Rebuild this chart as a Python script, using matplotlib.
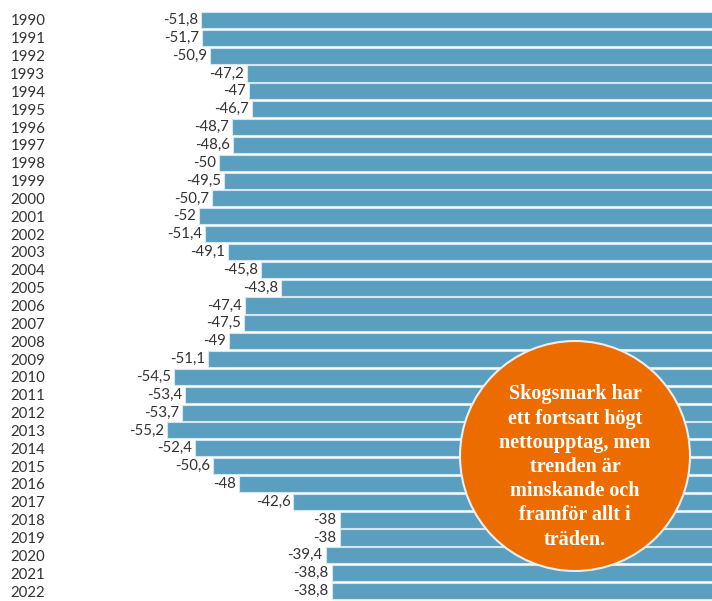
import matplotlib
matplotlib.use("Agg")
import matplotlib.pyplot as plt
from matplotlib.patches import Ellipse

years = list(range(1990, 2023))
values = [-51.8, -51.7, -50.9, -47.2, -47, -46.7, -48.7, -48.6, -50, -49.5,
          -50.7, -52, -51.4, -49.1, -45.8, -43.8, -47.4, -47.5, -49, -51.1,
          -54.5, -53.4, -53.7, -55.2, -52.4, -50.6, -48, -42.6, -38, -38,
          -39.4, -38.8, -38.8]
note = "Skogsmark har\nett fortsatt högt\nnettoupptag, men\ntrenden är\nminskande och\nframför allt i\nträden."

W, H = 712, 601
fig = plt.figure(figsize=(W / 100, H / 100), dpi=100)
left_px = 55
ax = fig.add_axes([left_px / W, 1 - 600 / H, 1 - left_px / W, (600 - 11) / H])

ppu = 10.06  # pixels per unit
zero_px = 722
ax.set_xlim(-(zero_px - left_px) / ppu, -(zero_px - W) / ppu)

pos = list(range(len(years)))
ax.barh(pos, values, height=0.9, color="#5b9fc0", edgecolor="#d6e6ee", linewidth=0.8)
ax.set_ylim(len(years) - 0.5, -0.5)

def fmt(v):
    s = ("%g" % v).replace(".", ",")
    return s

for p, v in zip(pos, values):
    ax.text(v - 0.3, p, fmt(v), ha="right", va="center", fontsize=10.8,
            family="Lato", color="#333333")

ax.set_yticks(pos)
ax.set_yticklabels([str(y) for y in years], fontsize=10.8, family="Lato", color="#333333")
ax.tick_params(axis="y", length=0, pad=7)
ax.set_xticks([])
for s in ax.spines.values():
    s.set_visible(False)

# orange note circle
cx, cy, r = 575, 456, 115
circ = Ellipse((cx / W, 1 - cy / H), 2 * r / W, 2 * r / H, transform=fig.transFigure,
               facecolor="#ec6c00", edgecolor="#e8eef2", linewidth=1.5, zorder=5)
fig.patches.append(circ)
fig.text(cx / W, 1 - 467 / H, note, ha="center", va="center", color="white",
         fontsize=14.5, fontweight="bold", family="Liberation Serif",
         linespacing=1.28, zorder=6)

fig.savefig("out.png", dpi=100)
